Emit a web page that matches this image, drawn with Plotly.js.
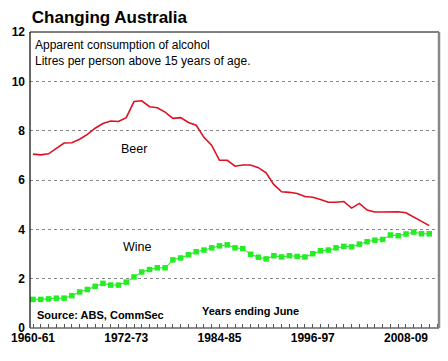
<!DOCTYPE html>
<html>
<head>
<meta charset="utf-8">
<script src="https://cdn.plot.ly/plotly-3.0.1.min.js"></script>
<style>html,body{margin:0;padding:0;background:#fff}#chart{width:448px;height:361px}</style>
</head>
<body>
<div id="chart"></div>
<script>
// Financial years 1960-61 .. 2011-12
var years = [];
for (var y = 1960; y <= 2011; y++) { years.push(y + '-' + String((y + 1) % 100).padStart(2, '0')); }

var beer = [7.05, 7.02, 7.06, 7.28, 7.50, 7.51, 7.65, 7.85, 8.10, 8.29,
            8.39, 8.37, 8.53, 9.18, 9.21, 8.97, 8.93, 8.75, 8.50, 8.53,
            8.33, 8.22, 7.73, 7.40, 6.80, 6.80, 6.56, 6.61, 6.61, 6.50,
            6.29, 5.81, 5.52, 5.50, 5.45, 5.33, 5.30, 5.21, 5.10, 5.10,
            5.13, 4.86, 5.05, 4.78, 4.70, 4.70, 4.71, 4.71, 4.67, 4.50,
            4.32, 4.15];

var wine = [1.16, 1.16, 1.18, 1.21, 1.21, 1.31, 1.46, 1.56, 1.69, 1.81,
            1.74, 1.74, 1.86, 2.07, 2.27, 2.37, 2.44, 2.44, 2.76, 2.84,
            2.97, 3.09, 3.16, 3.25, 3.33, 3.37, 3.25, 3.22, 2.99, 2.87,
            2.80, 2.93, 2.88, 2.93, 2.90, 2.88, 3.01, 3.13, 3.16, 3.25,
            3.31, 3.29, 3.40, 3.50, 3.56, 3.59, 3.77, 3.74, 3.81, 3.89,
            3.82, 3.82];

var tickLabels = ['1960-61', '1972-73', '1984-85', '1996-97', '2008-09'];
var yTicks = [0, 2, 4, 6, 8, 10, 12];

var idx = years.map(function (_, i) { return i; });
var tickIdx = tickLabels.map(function (t) { return years.indexOf(t); });

var F = 'Arial, "Liberation Sans", sans-serif';

var traces = [
  {x: idx, y: beer, type: 'scatter', mode: 'lines', name: 'Beer',
   line: {color: '#dd1122', width: 1.6}, hoverinfo: 'skip'},
  {x: idx, y: wine, type: 'scatter', mode: 'lines+markers', name: 'Wine',
   line: {color: '#22dd22', width: 1},
   marker: {symbol: 'square', size: 5.5, color: '#22ee22'}, hoverinfo: 'skip'}
];

var layout = {
  width: 448, height: 361,
  margin: {l: 30, r: 9, t: 32, b: 33},
  paper_bgcolor: '#fff', plot_bgcolor: '#fff',
  showlegend: false,
  font: {family: F, color: '#000'},
  title: {text: '<b>Changing Australia</b>', font: {family: F, size: 17, color: '#000'},
          x: 0.071, xanchor: 'left', y: 0.97, yanchor: 'top'},
  xaxis: {
    range: [-0.386, 52.25], showgrid: false, zeroline: false,
    tickvals: tickIdx, ticktext: tickLabels,
    ticks: 'inside', ticklen: 4, tickcolor: '#555', tickwidth: 1,
    minor: {dtick: 1, ticks: 'inside', ticklen: 4, tickcolor: '#555', tickwidth: 1, showgrid: false},
    tickfont: {family: F, size: 12, color: '#000', weight: 'bold'},
    ticklabelstandoff: 1,
    showline: false, fixedrange: true
  },
  yaxis: {
    range: [0, 12], zeroline: false,
    tickvals: yTicks, ticktext: yTicks.map(String),
    showgrid: true, gridcolor: '#888', griddash: 'dot', gridwidth: 1,
    ticks: '', ticklabelstandoff: 4,
    tickfont: {family: F, size: 12, color: '#000', weight: 'bold'},
    showline: false, fixedrange: true
  },
  shapes: [
    {type: 'line', xref: 'paper', yref: 'paper', x0: 0, x1: 1, y0: 1, y1: 1, line: {color: '#000', width: 1}},
    {type: 'line', xref: 'paper', yref: 'paper', x0: 0, x1: 0, y0: 0, y1: 1, line: {color: '#000', width: 1.2}},
    {type: 'line', xref: 'paper', yref: 'paper', x0: 0, x1: 1, y0: 0, y1: 0, line: {color: '#666', width: 1.5}},
    {type: 'line', xref: 'paper', yref: 'paper', x0: 1, x1: 1, y0: 0, y1: 1, line: {color: '#888', width: 2.5}}
  ],
  annotations: [
    {xref: 'paper', yref: 'paper', x: 0.008, y: 0.985, xanchor: 'left', yanchor: 'top', align: 'left', showarrow: false,
     text: 'Apparent consumption of alcohol<br>Litres per person above 15 years of age.',
     font: {family: F, size: 12, color: '#000'}},
    {xref: 'x', yref: 'y', x: 13, y: 7.25, xanchor: 'center', yanchor: 'middle', showarrow: false,
     text: 'Beer', font: {family: F, size: 12.5, color: '#000'}},
    {xref: 'x', yref: 'y', x: 13.5, y: 3.3, xanchor: 'center', yanchor: 'middle', showarrow: false,
     text: 'Wine', font: {family: F, size: 12.5, color: '#000'}},
    {xref: 'paper', yref: 'paper', x: 0.012, y: 0.045, xanchor: 'left', yanchor: 'middle', showarrow: false,
     text: '<b>Source: ABS, CommSec</b>', font: {family: F, size: 11, color: '#000'}},
    {xref: 'paper', yref: 'paper', x: 0.54, y: 0.057, xanchor: 'center', yanchor: 'middle', showarrow: false,
     text: '<b>Years ending June</b>', font: {family: F, size: 11, color: '#000'}}
  ]
};

Plotly.newPlot('chart', traces, layout, {staticPlot: true, displayModeBar: false});
</script>
</body>
</html>
